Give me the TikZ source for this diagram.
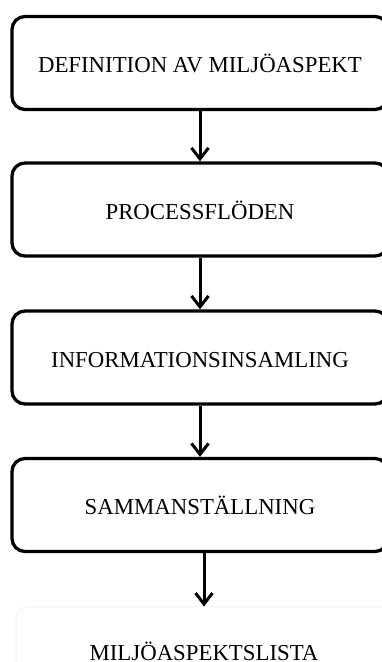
\documentclass[tikz,border=0pt]{standalone}
\usepackage{fontspec}
\setmainfont{Liberation Serif}
\usetikzlibrary{arrows.meta}
\begin{document}
\begin{tikzpicture}[x=1pt,y=-1pt,
  label font/.style={font=\fontsize{22.8}{27}\selectfont},
  stepbox/.style={draw=black, line width=3.3pt, rounded corners=13pt,
    minimum width=376pt, minimum height=93pt, inner sep=0pt,
    text height=19pt, text depth=0pt, label font},
  resulttext/.style={inner sep=0pt, text height=15pt, text depth=0pt,
    label font},
  faintframe/.style={draw=black!4, line width=1.5pt, rounded corners=13pt},
  flow/.style={line width=3pt,
    -{Straight Barb[length=11pt,width=17pt,line width=3pt]}}]
  \useasboundingbox (0,0) rectangle (381,662);
  \fill[white] (0,0) rectangle (381,662);

  \node[stepbox] (def)  at (200,63)    {DEFINITION AV MILJÖASPEKT};
  \node[stepbox] (proc) at (200,209.5) {PROCESSFLÖDEN};
  \node[stepbox] (info) at (200,357.5) {INFORMATIONSINSAMLING};
  \node[stepbox] (samm) at (200,505)   {SAMMANSTÄLLNING};

  % result: a barely visible frame running off the page, with its label
  \draw[faintframe] (16,700) |- (392,606.5) -- (392,700);
  \coordinate (listatop) at (204,606.5);
  \node[resulttext] (lista) at (204,652.5) {MILJÖASPEKTSLISTA};

  \draw[flow] (def.south)  -- (proc.north);
  \draw[flow] (proc.south) -- (info.north);
  \draw[flow] (info.south) -- (samm.north);
  \draw[flow] (samm.south -| listatop) -- (listatop);
\end{tikzpicture}
\end{document}
